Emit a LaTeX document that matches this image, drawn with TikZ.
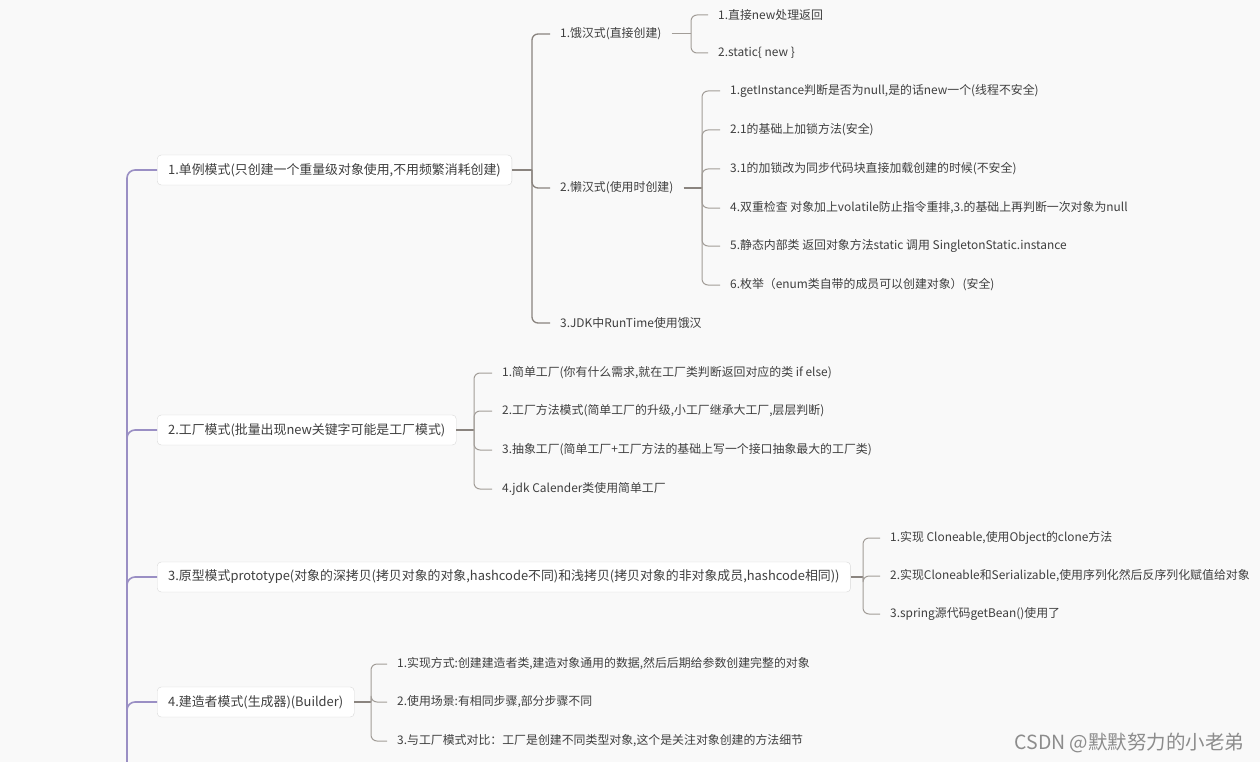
\documentclass[tikz,border=0pt]{standalone}
\usepackage{fontspec}
\setmainfont{Noto Sans CJK SC}
\usepackage{xcolor}
\usetikzlibrary{positioning,calc}
\definecolor{spine}{HTML}{9A8FC4}
\definecolor{twig}{HTML}{8A847F}
\definecolor{leafline}{HTML}{A29D98}
\definecolor{ink}{HTML}{3F3F3F}
\definecolor{boxline}{HTML}{D8D8D8}
\definecolor{paper}{HTML}{F9F9F9}

\begin{document}
\begin{tikzpicture}[
    x=1pt, y=-1pt,
    topic/.style={draw=boxline, fill=white, rounded corners=4pt, anchor=west, minimum height=30pt, inner xsep=11pt, text=ink, font=\fontsize{12.9}{15}\selectfont},
    item/.style={anchor=west, inner xsep=10pt, inner ysep=2pt, text=ink, font=\fontsize{11.9}{14}\selectfont},
    stem/.style={draw=spine, line width=1.6pt, rounded corners=8pt},
    link/.style={draw=twig, line width=1.3pt, rounded corners=6pt},
    leaf/.style={draw=leafline, line width=1pt, rounded corners=6pt}
]
    \fill[paper] (0,0) rectangle (1260,762);
    \useasboundingbox (0,0) rectangle (1260,762);

    % main topics
    \node[topic] (single) at (157,170) {1.单例模式(只创建一个重量级对象使用,不用频繁消耗创建)};
    \node[topic] (factory) at (157,430) {2.工厂模式(批量出现new关键字可能是工厂模式)};
    \node[topic] (proto) at (157,577) {3.原型模式prototype(对象的深拷贝(拷贝对象的对象,hashcode不同)和浅拷贝(拷贝对象的非对象成员,hashcode相同))};
    \node[topic] (builder) at (157,702) {4.建造者模式(生成器)(Builder)};

    \coordinate (rootend) at (127,762);
    \draw[stem] (rootend) |- (single.west);
    \draw[stem] (rootend) |- (factory.west);
    \draw[stem] (rootend) |- (proto.west);
    \draw[stem] (rootend) |- (builder.west);

    % singleton
    \node[item] (hungry) at (550,34) {1.饿汉式(直接创建)};
    \node[item] (lazy) at (550,188) {2.懒汉式(使用时创建)};
    \node[item] (jdkrt) at (550,323) {3.JDK中RunTime使用饿汉};
    \coordinate (js) at (532,170);
    \draw[link] (single.east) -- (js);
    \foreach \c in {hungry,lazy,jdkrt}
        \draw[link] (js) |- (\c.west);

    \node[item] (h1) at (708,15) {1.直接new处理返回};
    \node[item] (h2) at (708,53) {2.static\{ new \}};
    \coordinate (jh) at (691,34);
    \draw[leaf] (hungry.east) -- (jh);
    \foreach \c in {h1,h2}
        \draw[leaf] (jh) |- (\c.west);

    \node[item] (l1) at (720,91) {1.getInstance判断是否为null,是的话new一个(线程不安全)};
    \node[item] (l2) at (720,130) {2.1的基础上加锁方法(安全)};
    \node[item] (l3) at (720,169) {3.1的加锁改为同步代码块直接加载创建的时候(不安全)};
    \node[item] (l4) at (720,208) {4.双重检查 对象加上volatile防止指令重排,3.的基础上再判断一次对象为null};
    \node[item] (l5) at (720,246) {5.静态内部类 返回对象方法static 调用 SingletonStatic.instance};
    \node[item] (l6) at (720,285) {6.枚举（enum类自带的成员可以创建对象）(安全)};
    \coordinate (jl) at (702,188);
    \draw[link] (lazy.east) -- (jl);
    \foreach \c in {l1,l2,l3,l4,l5,l6}
        \draw[leaf] (jl) |- (\c.west);

    % factory
    \node[item] (f1) at (492,373) {1.简单工厂(你有什么需求,就在工厂类判断返回对应的类 if else)};
    \node[item] (f2) at (492,411) {2.工厂方法模式(简单工厂的升级,小工厂继承大工厂,层层判断)};
    \node[item] (f3) at (492,450) {3.抽象工厂(简单工厂+工厂方法的基础上写一个接口抽象最大的工厂类)};
    \node[item] (f4) at (492,489) {4.jdk Calender类使用简单工厂};
    \coordinate (jf) at (474,430);
    \draw[link] (factory.east) -- (jf);
    \foreach \c in {f1,f2,f3,f4}
        \draw[leaf] (jf) |- (\c.west);

    % prototype
    \node[item] (p1) at (880,538) {1.实现 Cloneable,使用Object的clone方法};
    \node[item] (p2) at (880,576) {2.实现Cloneable和Serializable,使用序列化然后反序列化赋值给对象};
    \node[item] (p3) at (880,614) {3.spring源代码getBean()使用了};
    \coordinate (jp) at (863,577);
    \draw[link] (proto.east) -- (jp);
    \foreach \c in {p1,p2,p3}
        \draw[leaf] (jp) |- (\c.west);

    % builder
    \node[item] (b1) at (387,664) {1.实现方式:创建建造者类,建造对象通用的数据,然后后期给参数创建完整的对象};
    \node[item] (b2) at (387,702) {2.使用场景:有相同步骤,部分步骤不同};
    \node[item] (b3) at (387,741) {3.与工厂模式对比：工厂是创建不同类型对象,这个是关注对象创建的方法细节};
    \coordinate (jb) at (371,702);
    \draw[link] (builder.east) -- (jb);
    \foreach \c in {b1,b2,b3}
        \draw[leaf] (jb) |- (\c.west);

    \node[anchor=west, text=black!45, font=\fontsize{19.5}{22}\selectfont] (mark) at (1011,743) {CSDN @默默努力的小老弟};
\end{tikzpicture}
\end{document}
